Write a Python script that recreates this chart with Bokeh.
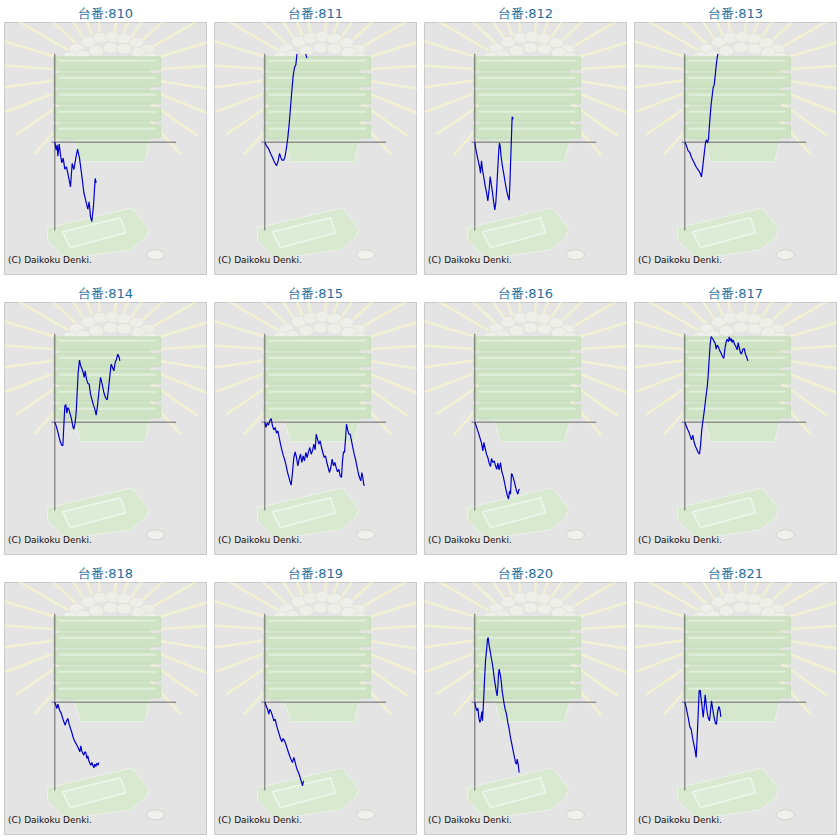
import numpy as np
from bokeh.plotting import figure
from bokeh.layouts import gridplot
from bokeh.models import Range1d
from bokeh.core.properties import value
from bokeh.embed import file_html
from bokeh.resources import INLINE

# ---- data: games played (x) vs medal difference (y) per machine ----
machines = ["810", "811", "812", "813", "814", "815", "816", "817", "818", "819", "820", "821"]

g810 = [0, 80, 140, 180, 260, 340, 420, 500, 600, 700, 800, 940, 1040, 1140, 1260, 1360, 1480, 1620, 1740, 1860, 1980, 2060, 2140, 2220, 2320, 2420, 2480]
m810 = [0, -240, -80, -420, -60, -380, -620, -480, -810, -740, -980, -1340, -640, -820, -480, -210, -480, -1010, -1510, -1760, -2010, -1790, -2240, -2380, -1910, -1090, -1220]

g811 = [0, 100, 240, 340, 460, 560, 700, 800, 880, 960, 1040, 1140, 1220, 1300, 1380, 1460, 1540, 1620, 1700, 1780, 1860, 1920, 1980, 2100, 2240, 2380, 2460, 2520]
m811 = [0, -110, -210, -340, -460, -580, -710, -560, -340, -460, -540, -540, -420, -160, 140, 540, 1040, 1540, 1990, 2240, 2320, 2590, 2840, 3340, 3540, 3140, 2640, 2520]

g812 = [0, 60, 180, 280, 340, 400, 460, 540, 620, 720, 780, 860, 920, 1000, 1060, 1120, 1200, 1260, 1320, 1380, 1440, 1480, 1520, 1580, 1660, 1740, 1820, 1900, 1980, 2060, 2100, 2140, 2180, 2220, 2240, 2300]
m812 = [0, -210, -510, -730, -930, -560, -830, -1060, -1310, -1560, -1760, -1410, -1030, -1310, -1510, -1760, -2030, -1810, -1310, -760, -210, -30, -110, -460, -730, -960, -1210, -1430, -1610, -1740, -1310, -710, -110, 490, 760, 690]

g813 = [0, 100, 200, 300, 400, 500, 600, 700, 800, 900, 1000, 1080, 1160, 1240, 1300, 1360, 1420, 1460, 1520, 1580, 1640, 1700, 1760, 1820, 1880, 1940, 2000]
m813 = [0, -110, -260, -310, -460, -560, -660, -760, -830, -910, -1040, -710, -360, -10, 70, -30, 90, 390, 790, 1140, 1390, 1640, 1710, 1990, 2290, 2540, 2670]

g814 = [0, 80, 180, 260, 340, 420, 480, 540, 600, 660, 720, 780, 840, 920, 1000, 1080, 1140, 1220, 1280, 1340, 1400, 1480, 1540, 1620, 1700, 1760, 1820, 1900, 1980, 2060, 2140, 2220, 2300, 2400, 2480, 2560, 2640, 2740, 2840, 2940, 3040, 3140, 3220, 3300, 3380, 3460, 3540, 3620, 3700, 3780, 3860, 3900]
m814 = [0, -110, -290, -460, -610, -690, -710, -110, 490, 530, 270, 440, 390, 240, 90, -130, -210, -10, 290, 890, 1490, 1860, 1710, 1610, 1490, 1340, 1540, 1290, 1170, 1140, 840, 690, 540, 390, 210, 490, 890, 1340, 1140, 890, 740, 670, 990, 1390, 1740, 1640, 1540, 1790, 1890, 2040, 1940, 1840]

g815 = [0, 60, 140, 220, 300, 380, 460, 540, 620, 700, 780, 860, 940, 1020, 1100, 1180, 1260, 1340, 1420, 1500, 1580, 1660, 1740, 1820, 1900, 1980, 2060, 2140, 2220, 2300, 2380, 2460, 2540, 2620, 2700, 2780, 2860, 2940, 3020, 3080, 3160, 3240, 3320, 3400, 3480, 3560, 3640, 3720, 3800, 3880, 3960, 4040, 4120, 4200, 4280, 4360, 4440, 4520, 4600, 4660, 4720, 4780, 4840, 4900, 4960, 5040, 5120, 5200, 5280, 5360, 5440, 5520, 5600, 5680, 5760, 5820, 5880, 5940, 6000]
m815 = [0, -160, -30, -90, 40, 110, -110, -230, -160, -330, -260, -460, -660, -830, -990, -1110, -1260, -1460, -1610, -1760, -1890, -1510, -1060, -890, -1060, -1310, -1110, -960, -1210, -1010, -1160, -910, -1060, -890, -760, -960, -860, -660, -830, -360, -510, -660, -560, -760, -910, -1060, -1010, -1210, -1360, -1510, -1360, -1110, -1310, -1210, -1360, -1490, -1410, -1610, -1660, -1160, -890, -910, -510, -60, -210, -360, -360, -560, -760, -960, -1110, -1310, -1510, -1660, -1760, -1510, -1660, -1890, -1890]

g816 = [0, 80, 160, 240, 320, 400, 480, 540, 620, 700, 780, 860, 940, 1000, 1080, 1160, 1240, 1320, 1380, 1460, 1540, 1620, 1700, 1780, 1860, 1940, 2020, 2080, 2140, 2200, 2260, 2340, 2420, 2500, 2580, 2640, 2700]
m816 = [0, -110, -230, -360, -490, -630, -860, -610, -790, -960, -1060, -1230, -1330, -1090, -1210, -1160, -1310, -1410, -1230, -1430, -1210, -1490, -1610, -1810, -2010, -2190, -2310, -2060, -2160, -1540, -1590, -1730, -1890, -2060, -2160, -2030, -2010]

g817 = [0, 80, 160, 240, 320, 400, 480, 560, 640, 720, 800, 880, 940, 1020, 1100, 1180, 1260, 1340, 1400, 1460, 1520, 1580, 1660, 1740, 1820, 1880, 1940, 2020, 2100, 2180, 2260, 2340, 2400, 2480, 2540, 2620, 2660, 2720, 2780, 2840, 2900, 2980, 3060, 3140, 3200, 3260, 3320, 3400, 3480, 3560, 3640, 3720, 3780]
m817 = [0, -110, -210, -290, -410, -530, -390, -610, -730, -810, -910, -960, -710, -210, 90, 390, 740, 1040, 1390, 1890, 2340, 2570, 2510, 2440, 2370, 2190, 2310, 2250, 2140, 2070, 1970, 1910, 2190, 2410, 2490, 2410, 2560, 2440, 2510, 2390, 2470, 2340, 2270, 2170, 2390, 2240, 2110, 2040, 2190, 2210, 2040, 1940, 1840]

g818 = [0, 60, 120, 180, 240, 300, 380, 460, 540, 620, 700, 780, 860, 940, 1020, 1100, 1180, 1260, 1340, 1420, 1500, 1560, 1620, 1680, 1740, 1800, 1860, 1920, 1980, 2040, 2100, 2160, 2220, 2280, 2340, 2400, 2460, 2520, 2580, 2640]
m818 = [0, -90, -190, -60, -160, -260, -330, -460, -590, -690, -560, -490, -660, -790, -910, -1060, -1160, -1230, -1310, -1390, -1490, -1310, -1470, -1530, -1590, -1490, -1510, -1690, -1610, -1760, -1830, -1890, -1810, -1890, -1970, -1860, -1930, -1830, -1890, -1810]

g819 = [0, 80, 160, 240, 300, 380, 460, 540, 620, 700, 780, 860, 940, 1020, 1100, 1180, 1260, 1340, 1420, 1500, 1580, 1660, 1740, 1800, 1860, 1940, 2020, 2100, 2180, 2260, 2320]
m819 = [0, -110, -210, -360, -210, -290, -410, -560, -510, -690, -830, -960, -1090, -1190, -1090, -1160, -1260, -1390, -1510, -1630, -1730, -1810, -1660, -1760, -1890, -2030, -2110, -2230, -2360, -2510, -2360]

g820 = [0, 60, 120, 180, 240, 300, 360, 420, 460, 520, 580, 640, 700, 760, 800, 860, 920, 980, 1040, 1100, 1160, 1220, 1280, 1340, 1380, 1420, 1460, 1520, 1580, 1640, 1700, 1760, 1820, 1900, 1980, 2060, 2140, 2220, 2300, 2380, 2440, 2500, 2540, 2600, 2660]
m820 = [0, -160, -260, -180, -460, -610, -510, -280, -560, -10, 640, 1240, 1540, 1890, 1940, 1690, 1540, 1340, 1190, 990, 740, 540, 340, 190, 440, 840, 990, 840, 640, 340, 140, -60, -210, -360, -610, -810, -1060, -1260, -1460, -1660, -1810, -1860, -1710, -1860, -2110]

g821 = [0, 60, 140, 220, 300, 380, 460, 540, 620, 680, 740, 800, 860, 920, 980, 1040, 1100, 1160, 1220, 1280, 1340, 1400, 1480, 1540, 1600, 1660, 1720, 1780, 1840, 1900, 1960, 2040, 2100, 2160]
m821 = [0, -110, -310, -510, -740, -810, -1060, -1260, -1460, -1660, -1060, -360, 340, 360, 90, -160, -460, -160, 220, -60, -310, -460, -560, -260, 40, -160, -360, -510, -640, -660, -310, -130, -210, -440]

series = {
    "810": (g810, m810), "811": (g811, m811), "812": (g812, m812), "813": (g813, m813),
    "814": (g814, m814), "815": (g815, m815), "816": (g816, m816), "817": (g817, m817),
    "818": (g818, m818), "819": (g819, m819), "820": (g820, m820), "821": (g821, m821),
}

GAMES_MAX = 7280
MEDAL_LIM = 2650


def clip_line(xs, ys, lo, hi):
    """Clip a polyline to lo <= y <= hi, breaking it with NaN where it leaves."""
    ox, oy = [], []
    last = None
    for i in range(len(xs) - 1):
        x0, y0, x1, y1 = xs[i], ys[i], xs[i + 1], ys[i + 1]
        t0, t1 = 0.0, 1.0
        dy = y1 - y0
        if dy == 0:
            if y0 < lo or y0 > hi:
                continue
        else:
            ta, tb = (lo - y0) / dy, (hi - y0) / dy
            t0 = max(t0, min(ta, tb))
            t1 = min(t1, max(ta, tb))
            if t0 > t1:
                continue
        ax_, ay_ = x0 + t0 * (x1 - x0), y0 + t0 * dy
        bx_, by_ = x0 + t1 * (x1 - x0), y0 + t1 * dy
        if last is None or abs(last[0] - ax_) > 1e-9 or abs(last[1] - ay_) > 1e-9:
            if ox:
                ox.append(np.nan)
                oy.append(np.nan)
            ox.append(ax_)
            oy.append(ay_)
        ox.append(bx_)
        oy.append(by_)
        last = (bx_, by_)
    return np.array(ox, dtype=float), np.array(oy, dtype=float)


def decorate(p):
    """Background illustration, drawn in panel pixel space."""
    kw = dict(x_range_name="px", y_range_name="px")
    cx, cy = 107, 72
    angs = [228, 214, 201, 188, 176, 163, 150, 137, 124, 112, 100, 80, 68, 56, 43, 30, 17, 4, -9, -22, -35, -48]
    x0s, y0s, x1s, y1s = [], [], [], []
    for a in angs:
        r1 = 150 if 0 <= a <= 180 else 110
        ca, sa = np.cos(np.radians(a)), np.sin(np.radians(a))
        x0s.append(cx + 40 * ca); y0s.append(cy - 40 * sa)
        x1s.append(cx + r1 * ca); y1s.append(cy - r1 * sa)
    p.segment(x0s, y0s, x1s, y1s, line_color="#f3f2d2", line_width=2.6, line_alpha=0.9, **kw)
    # rice on top
    rx = [76, 88, 100, 112, 124, 136, 147, 82, 96, 110, 124, 138, 150, 70]
    ry = [48, 41, 37, 36, 38, 42, 49, 55, 50, 47, 48, 52, 57, 56]
    p.ellipse(rx, ry, width=15, height=11, fill_color="#efefea", line_color="#e0e0d8", line_width=0.8, **kw)
    # stacked green plates
    p.quad(left=[58], right=[150], top=[56], bottom=[140], fill_color="#d2e5ca", line_color=None, **kw)
    p.patch([74, 149, 144, 80], [140, 140, 161, 161], fill_color="#d5e7cd", line_color="#e9f2e5", line_width=1, **kw)
    for i in range(5):
        t = 56 + i * 17
        p.quad(left=[53], right=[160], top=[t], bottom=[t + 13], fill_color="#cde3c3",
               line_color="#c3dab8", line_width=0.8, **kw)
        p.segment([58], [t + 4], [155], [t + 4], line_color="#e3efdd", line_width=2, **kw)
    # tray
    p.patch([47, 132, 148, 146, 130, 66, 47], [227, 207, 228, 236, 249, 258, 240],
            fill_color="#d8e9d0", line_color="#f2f7ef", line_width=1, line_dash="2 1", **kw)
    p.patch([62, 120, 125, 70], [231, 217, 232, 247], fill_color="#dcecd6",
            line_color="#eef6ea", line_width=1.5, **kw)
    # coin
    p.ellipse([155], [254], width=18, height=10, fill_color="#f0f0ec", line_color="#d2d2d2", line_width=1, **kw)


figs = []
for m in machines:
    gx, my = series[m]
    p = figure(frame_width=202, frame_height=252,
               x_range=Range1d(-3020, 9100), y_range=Range1d(-3970, 3590),
               x_axis_type=None, y_axis_type=None, toolbar_location=None,
               output_backend="svg", title="台番:" + m,
               min_border_left=4, min_border_right=4, min_border_top=22, min_border_bottom=6)
    p.extra_x_ranges = {"px": Range1d(4, 206)}
    p.extra_y_ranges = {"px": Range1d(273.7, 21.7)}
    p.background_fill_color = "#e4e4e4"
    p.border_fill_color = "white"
    p.outline_line_color = "#c9c9c9"
    p.outline_line_width = 1
    p.title.align = "center"
    p.title.text_font_size = "13px"
    p.title.text_color = "#266d99"
    p.title.text_font_style = "normal"
    p.title.text_font = "DejaVu Sans"
    p.title.standoff = 4

    decorate(p)
    # axes
    p.segment([0], [-MEDAL_LIM], [0], [MEDAL_LIM], line_color="#666666", line_width=1)
    p.segment([-200], [0], [GAMES_MAX], [0], line_color="#666666", line_width=1)
    # data
    lx, ly = clip_line(gx, my, -MEDAL_LIM, MEDAL_LIM)
    p.line(lx, ly, line_color="#0000cc", line_width=1.2)
    # copyright
    p.text([7.5], [259], text=["(C) Daikoku Denki."], text_font=value("DejaVu Sans"),
           text_font_size="9px", text_color="#111111", text_baseline="alphabetic",
           x_range_name="px", y_range_name="px")
    figs.append(p)

grid = gridplot(figs, ncols=4, toolbar_location=None)
open("out.html", "w").write(file_html(grid, INLINE))
